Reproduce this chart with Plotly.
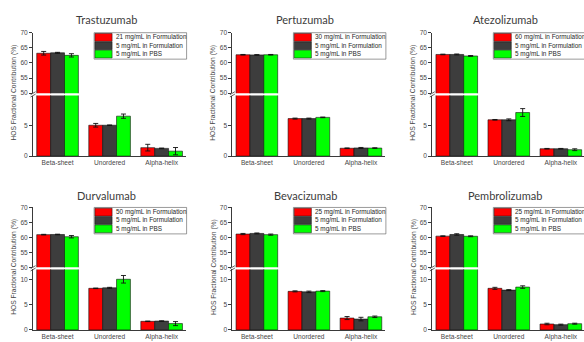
import plotly.graph_objects as go

W, H = 584, 342

categories = ["Beta-sheet", "Unordered", "Alpha-helix"]
antibodies = ["Trastuzumab", "Pertuzumab", "Atezolizumab",
              "Durvalumab", "Bevacizumab", "Pembrolizumab"]
stock_conc = ["21 mg/mL", "30 mg/mL", "60 mg/mL", "50 mg/mL", "25 mg/mL", "25 mg/mL"]

# Fractional contribution (%) per antibody: [Beta-sheet, Unordered, Alpha-helix]
stock_form_vals = [
    [63.2, 5.1, 1.40],
    [62.7, 6.2, 1.30],
    [62.8, 6.0, 1.22],
    [60.9, 8.25, 1.70],
    [61.1, 7.65, 2.35],
    [60.4, 8.25, 1.17],
]
stock_form_err = [
    [0.6, 0.3, 0.55],
    [0.1, 0.08, 0.05],
    [0.1, 0.05, 0.05],
    [0.1, 0.05, 0.05],
    [0.2, 0.1, 0.3],
    [0.1, 0.2, 0.15],
]
dil_form_vals = [
    [63.35, 5.1, 1.28],
    [62.65, 6.2, 1.35],
    [62.8, 6.0, 1.22],
    [60.95, 8.35, 1.75],
    [61.3, 7.55, 2.15],
    [60.95, 7.9, 1.04],
]
dil_form_err = [
    [0.15, 0.05, 0.05],
    [0.1, 0.08, 0.08],
    [0.15, 0.15, 0.05],
    [0.1, 0.1, 0.05],
    [0.15, 0.15, 0.35],
    [0.25, 0.1, 0.1],
]
pbs_vals = [
    [62.5, 6.6, 0.82],
    [62.7, 6.4, 1.33],
    [62.3, 7.2, 1.06],
    [60.2, 10.05, 1.25],
    [60.9, 7.7, 2.6],
    [60.35, 8.5, 1.23],
]
pbs_err = [
    [0.55, 0.35, 0.6],
    [0.1, 0.05, 0.05],
    [0.15, 0.65, 0.15],
    [0.4, 0.75, 0.4],
    [0.2, 0.1, 0.15],
    [0.15, 0.25, 0.1],
]

series_colors = ["#ff0000", "#3d3d3d", "#00ff00"]
AXIS_COLOR = "#3a3a3a"
TICK_FONT = dict(family="Liberation Sans, Arial, sans-serif", size=6.6, color="#474747")


def fx(px):
    return px / W


def fy(py):
    return 1 - py / H


# panel geometry in pixels
col_left = [33.1, 232.4, 432.3]
plot_w = 153.0
X_RANGE = [-0.47, 2.47]
rows = [
    dict(up=(29.3, 91.0), low=(93.5, 155.3), low_range=[0, 10], low_ticks=[0, 5], title_y=16),
    dict(up=(207.7, 268.7), low=(271.0, 332.7), low_range=[0, 12], low_ticks=[0, 5, 10], title_y=195),
]

fig = go.Figure()
layout = {}
shapes = []
annotations = []

for i, name in enumerate(antibodies):
    r, c = divmod(i, 3)
    row = rows[r]
    left = col_left[c]
    right = left + plot_w
    # the rightmost column runs past the page edge: keep the same scale, cut the range
    vis_right = min(right, W)
    units_per_px = (X_RANGE[1] - X_RANGE[0]) / plot_w
    x_range = [X_RANGE[0], X_RANGE[0] + (vis_right - left) * units_per_px]

    xi = i + 1
    yu = 2 * i + 1
    yl = 2 * i + 2
    xname = "x" if xi == 1 else f"x{xi}"
    yuname = "y" if yu == 1 else f"y{yu}"
    ylname = f"y{yl}"

    layout["xaxis" if xi == 1 else f"xaxis{xi}"] = dict(
        domain=[fx(left), fx(vis_right)], anchor=ylname,
        range=x_range, showline=True, linecolor=AXIS_COLOR, linewidth=1,
        ticks="", tickfont=TICK_FONT, showgrid=False, zeroline=False,
        tickvals=categories, ticktext=categories, fixedrange=True,
    )
    layout["yaxis" if yu == 1 else f"yaxis{yu}"] = dict(
        domain=[fy(row["up"][1]), fy(row["up"][0])], anchor=xname,
        range=[50, 70], tickvals=[50, 55, 60, 65, 70],
        showline=True, linecolor=AXIS_COLOR, linewidth=1,
        ticks="outside", ticklen=3, tickcolor=AXIS_COLOR, tickfont=TICK_FONT,
        showgrid=False, zeroline=False,
    )
    layout[f"yaxis{yl}"] = dict(
        domain=[fy(row["low"][1]), fy(row["low"][0])], anchor=xname,
        range=row["low_range"], tickvals=row["low_ticks"],
        showline=True, linecolor=AXIS_COLOR, linewidth=1,
        ticks="outside", ticklen=3, tickcolor=AXIS_COLOR, tickfont=TICK_FONT,
        showgrid=False, zeroline=False,
    )

    series = [
        (f"{stock_conc[i]} in Formulation", stock_form_vals[i], stock_form_err[i]),
        ("5 mg/mL in Formulation", dil_form_vals[i], dil_form_err[i]),
        ("5 mg/mL in PBS", pbs_vals[i], pbs_err[i]),
    ]
    for s, (label, vals, errs) in enumerate(series):
        for ya in (yuname, ylname):
            fig.add_trace(go.Bar(
                x=categories, y=vals, name=label, xaxis=xname, yaxis=ya,
                offsetgroup=str(s), showlegend=False,
                marker=dict(color=series_colors[s], line=dict(color="#111111", width=0.6)),
                error_y=dict(type="data", array=errs, color="#111111", thickness=0.9, width=2.5),
            ))

    # axis break marks
    gap_mid = (row["up"][1] + row["low"][0]) / 2
    for dy in (-1.2, 1.2):
        shapes.append(dict(
            type="line", xref="paper", yref="paper",
            x0=fx(left - 2.5), y0=fy(gap_mid + dy + 1.5),
            x1=fx(left + 2.5), y1=fy(gap_mid + dy - 1.5),
            line=dict(color=AXIS_COLOR, width=0.8),
        ))

    # panel title
    annotations.append(dict(
        text=name, x=fx(left + 73), y=fy(row["title_y"]), xref="paper", yref="paper",
        showarrow=False, xanchor="center", yanchor="middle",
        font=dict(family="Lato, Open Sans, sans-serif", size=11, color="#3c3c3c"),
    ))
    # y-axis title
    annotations.append(dict(
        text="HOS Fractional Contribution (%)", textangle=-90,
        x=fx(left - 19), y=fy((row["up"][0] + row["low"][1]) / 2 - 2),
        xref="paper", yref="paper", showarrow=False,
        xanchor="center", yanchor="middle",
        font=dict(family="Liberation Sans, Arial, sans-serif", size=6.7, color="#474747"),
    ))

    # legend box
    box_l = left + 61
    box_t = row["up"][0]
    box_r = right + 0.5
    box_b = box_t + 27
    shapes.append(dict(
        type="rect", xref="paper", yref="paper",
        x0=fx(box_l), x1=fx(box_r), y0=fy(box_b), y1=fy(box_t),
        line=dict(color="#555555", width=0.6), fillcolor="white", layer="above",
    ))
    for s, (label, _, _) in enumerate(series):
        cy = box_t + 4.8 + s * 8.5
        shapes.append(dict(
            type="rect", xref="paper", yref="paper",
            x0=fx(box_l + 0.8), x1=fx(box_l + 18),
            y0=fy(cy + 4), y1=fy(cy - 4),
            line=dict(color="#111111", width=0.5), fillcolor=series_colors[s], layer="above",
        ))
        annotations.append(dict(
            text=label, x=fx(box_l + 19.5), y=fy(cy), xref="paper", yref="paper",
            showarrow=False, xanchor="left", yanchor="middle",
            font=dict(family="Liberation Sans, Arial, sans-serif", size=6.4, color="#262626"),
        ))

fig.update_layout(
    width=W, height=H,
    margin=dict(l=0, r=0, t=0, b=0),
    paper_bgcolor="white", plot_bgcolor="white",
    barmode="group", bargap=0.2, bargroupgap=0,
    showlegend=False,
    shapes=shapes, annotations=annotations,
    **layout,
)

fig.write_html("out.html")
